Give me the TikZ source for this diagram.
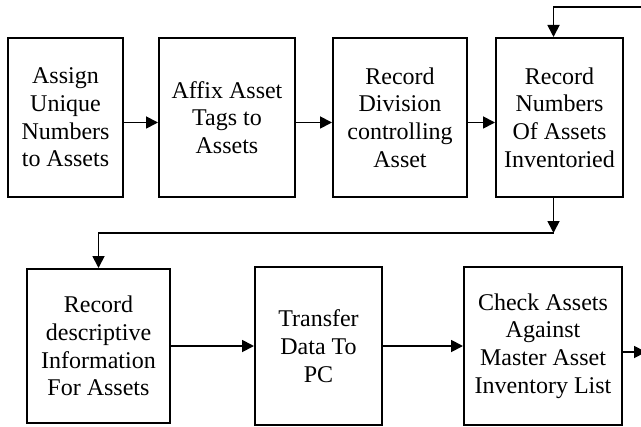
\documentclass[tikz,border=0pt]{standalone}
\usepackage{fontspec}
\setmainfont{Liberation Serif}
\usetikzlibrary{positioning,arrows.meta}

\begin{document}
\begin{tikzpicture}[x=0.5pt, y=-0.5pt, >={Triangle[length=6pt,width=6pt]}, main/.style = {draw, line width=1pt, align=center, inner sep=2pt, minimum height=79.5pt, font=\fontsize{12}{13.85}\selectfont}, link/.style = {->, line width=0.9pt}]
    \useasboundingbox (0,0) rectangle (641,427);
    \node[main, minimum width=57.5pt] (1) at (65.5,117.5) {Assign\\ Unique\\ Numbers\\ to Assets};
    \node[main, minimum width=68pt] (2) [right=17pt of 1] {Affix Asset\\ Tags to\\ Assets};
    \node[main, minimum width=67pt] (3) [right=18pt of 2] {Record\\ Division\\ controlling\\ Asset};
    \node[main, minimum width=63.5pt] (4) [right=13.5pt of 3] {Record\\ Numbers\\ Of Assets\\ Inventoried};
    \node[main, minimum width=71.5pt, minimum height=77pt] (5) at (98.5,346) {Record\\ descriptive\\ Information\\ For Assets};
    \node[main, minimum width=63.5pt, minimum height=79pt] (6) [right=41.5pt of 5] {Transfer\\ Data To\\ PC};
    \node[main, minimum width=79pt, minimum height=79pt] (7) [right=40pt of 6] {Check Assets\\ Against\\ Master Asset\\ Inventory List};
    \coordinate (in) at (641,7);
    \coordinate[below=17.5pt of 4.south, xshift=-3pt] (turn);
    \coordinate (out) at ([xshift=11.5pt,yshift=-3pt]7.east);
    \draw[link] ([yshift=-2.5pt]1.east) -- ([yshift=-2.5pt]2.west);
    \draw[link] ([yshift=-2.5pt]2.east) -- ([yshift=-2.5pt]3.west);
    \draw[link] ([yshift=-2.5pt]3.east) -- ([yshift=-2.5pt]4.west);
    \draw[link] (in) -| ([xshift=-3pt]4.north);
    \draw[link] ([xshift=-3pt]4.south) -- (turn);
    \draw[link] (turn) -| (5);
    \draw[link] (5) -- (6);
    \draw[link] (6) -- (7);
    \draw[link] ([yshift=-3pt]7.east) -- (out);
\end{tikzpicture}
\end{document}
